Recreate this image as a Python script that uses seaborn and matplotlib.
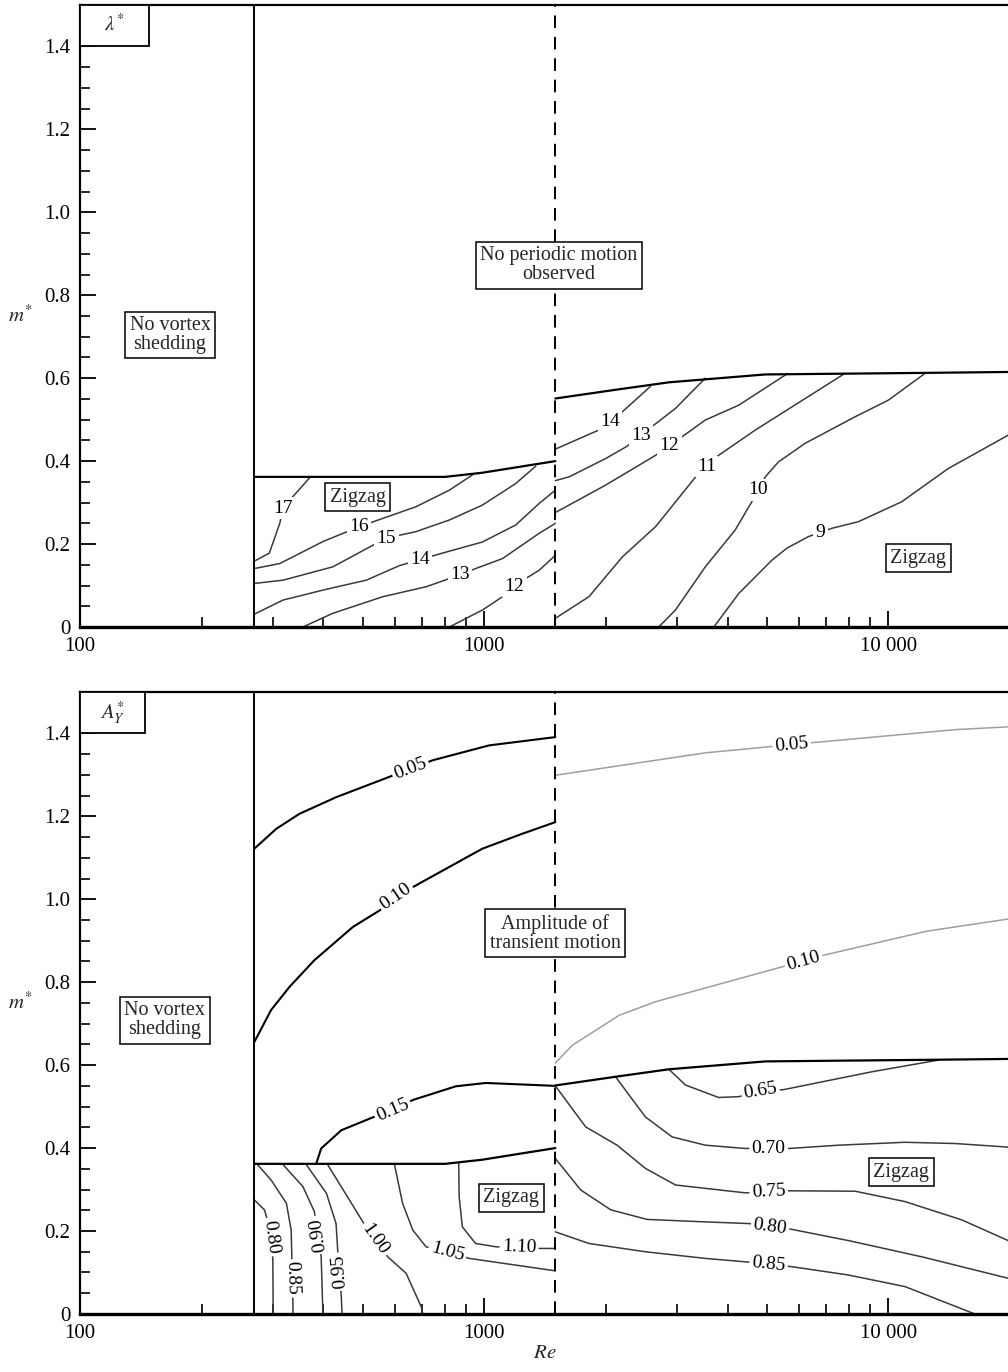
import numpy as np
import matplotlib
matplotlib.use("Agg")
import matplotlib.pyplot as plt
import seaborn as sns
from matplotlib.patches import Rectangle
from matplotlib.ticker import MultipleLocator, FuncFormatter, NullFormatter

# ---------------- data (Re, m*) ----------------
re_onset = 270      # no vortex shedding below this
re_dash = 1500      # dashed separation line

# regime boundaries (same in both panels)
low_bound_re = [270, 800, 990, 1200, 1500]
low_bound_m = [0.362, 0.362, 0.372, 0.385, 0.400]
up_bound_re = [1500, 2113, 2864, 4961, 13000, 20000]
up_bound_m = [0.551, 0.572, 0.590, 0.609, 0.613, 0.615]

# top panel: lambda* contours
lam17_re = [270, 294, 312, 318, 336, 370]
lam17_m = [0.159, 0.178, 0.250, 0.286, 0.314, 0.360]
lam16_re = [270, 312, 399, 491, 678, 820, 936]
lam16_m = [0.141, 0.153, 0.206, 0.242, 0.290, 0.330, 0.367]
lam15_re = [270, 318, 422, 571, 678, 820, 990, 1197, 1342]
lam15_m = [0.105, 0.113, 0.145, 0.214, 0.230, 0.258, 0.294, 0.346, 0.388]
lam14_re = [270, 318, 399, 511, 617, 692, 774, 990, 1197, 1368, 1500]
lam14_m = [0.031, 0.065, 0.089, 0.113, 0.148, 0.162, 0.176, 0.205, 0.246, 0.298, 0.330]
lam13_re = [356, 422, 561, 718, 867, 953, 1110, 1368, 1500]
lam13_m = [0.0, 0.033, 0.073, 0.097, 0.125, 0.141, 0.165, 0.226, 0.250]
lam12_re = [820, 990, 1110, 1186, 1268, 1368, 1500]
lam12_m = [0.0, 0.041, 0.073, 0.098, 0.117, 0.137, 0.173]
lam14r_re = [1500, 1923, 2197, 2578]
lam14r_m = [0.429, 0.475, 0.519, 0.580]
lam13r_re = [1500, 1622, 1996, 2258, 2630, 2973, 3524]
lam13r_m = [0.353, 0.362, 0.406, 0.436, 0.487, 0.527, 0.600]
lam12r_re = [1500, 1996, 2655, 3090, 3524, 4266, 5608]
lam12r_m = [0.276, 0.342, 0.414, 0.459, 0.499, 0.535, 0.610]
lam11_re = [1500, 1816, 2197, 2655, 3336, 3802, 4688, 7821]
lam11_m = [0.021, 0.073, 0.169, 0.242, 0.362, 0.414, 0.475, 0.612]
lam10_re = [2703, 2973, 3524, 4179, 4594, 4961, 5345, 6226, 8277, 10000, 12340]
lam10_m = [0.0, 0.041, 0.145, 0.234, 0.302, 0.362, 0.398, 0.443, 0.507, 0.547, 0.612]
lam9_re = [3700, 4266, 5150, 5608, 6342, 7249, 8434, 10790, 14060, 20000]
lam9_m = [0.0, 0.081, 0.161, 0.190, 0.218, 0.238, 0.254, 0.302, 0.382, 0.465]

# bottom panel: A_Y* contours
amp05_re = [270, 306, 349, 430, 582, 745, 1028, 1500]
amp05_m = [1.122, 1.170, 1.206, 1.246, 1.295, 1.335, 1.371, 1.391]
amp10_re = [270, 297, 330, 380, 473, 551, 605, 691, 820, 990, 1243, 1500]
amp10_m = [0.656, 0.733, 0.789, 0.853, 0.933, 0.973, 1.006, 1.038, 1.078, 1.122, 1.158, 1.186]
amp15_re = [384, 395, 443, 530, 594, 666, 851, 1009, 1500]
amp15_m = [0.362, 0.399, 0.443, 0.474, 0.492, 0.516, 0.549, 0.557, 0.550]
amp05r_re = [1500, 3524, 5768, 14630, 20000]
amp05r_m = [1.299, 1.353, 1.373, 1.409, 1.416]
amp10r_re = [1500, 1652, 1888, 2155, 2655, 5456, 6912, 12440, 20000]
amp10r_m = [0.605, 0.648, 0.684, 0.720, 0.753, 0.837, 0.865, 0.923, 0.953]
amp65_re = [2864, 3148, 3802, 4266, 4823, 5509, 9104, 13270]
amp65_m = [0.590, 0.552, 0.522, 0.524, 0.537, 0.541, 0.584, 0.612]
amp70_re = [2113, 2506, 2917, 3524, 4430, 5057, 5665, 7535, 10990, 14630, 20000]
amp70_m = [0.572, 0.475, 0.427, 0.407, 0.399, 0.400, 0.399, 0.407, 0.414, 0.411, 0.402]
amp75_re = [1500, 1783, 2132, 2506, 2973, 4430, 5665, 8277, 10990, 15180, 20000]
amp75_m = [0.550, 0.451, 0.407, 0.351, 0.311, 0.292, 0.297, 0.296, 0.271, 0.227, 0.175]
amp80r_re = [1500, 1733, 2057, 2530, 3524, 4514, 5768, 7962, 12080, 20000]
amp80r_m = [0.375, 0.299, 0.251, 0.228, 0.222, 0.218, 0.204, 0.177, 0.138, 0.085]
amp85r_re = [1500, 1816, 2506, 3524, 4514, 5768, 7962, 10990, 16370]
amp85r_m = [0.198, 0.170, 0.150, 0.134, 0.125, 0.114, 0.094, 0.066, 0.0]
amp80_re = [270, 286, 296, 300, 300.5]
amp80_m = [0.275, 0.251, 0.200, 0.130, 0.0]
amp85_re = [275, 297, 324, 333, 336, 336.5]
amp85_m = [0.360, 0.323, 0.267, 0.202, 0.042, 0.0]
amp90_re = [399, 395, 380, 356, 318]
amp90_m = [0.0, 0.138, 0.247, 0.307, 0.360]
amp95_re = [445, 443, 434, 430, 407, 363]
amp95_m = [0.0, 0.042, 0.154, 0.218, 0.291, 0.360]
amp100_re = [410, 501, 577, 641, 698, 705]
amp100_m = [0.360, 0.222, 0.138, 0.098, 0.018, 0.0]
amp105_re = [600, 628, 666, 718, 811, 918, 1500]
amp105_m = [0.360, 0.267, 0.202, 0.162, 0.149, 0.134, 0.104]
amp110_re = [865, 867, 883, 952, 1069, 1220, 1368, 1500]
amp110_m = [0.364, 0.283, 0.210, 0.170, 0.162, 0.160, 0.158, 0.158]

# (Re, m*, label, style, label anchor)
lam_lines = [
    (lam17_re, lam17_m, "17", "c", (318, 0.287)),
    (lam16_re, lam16_m, "16", "c", (491, 0.241)),
    (lam15_re, lam15_m, "15", "c", (573, 0.214)),
    (lam14_re, lam14_m, "14", "c", (692, 0.165)),
    (lam13_re, lam13_m, "13", "c", (867, 0.130)),
    (lam12_re, lam12_m, "12", "c", (1186, 0.100)),
    (lam14r_re, lam14r_m, "14", "c", (2055, 0.495)),
    (lam13r_re, lam13r_m, "13", "c", (2460, 0.459)),
    (lam12r_re, lam12r_m, "12", "c", (2864, 0.439)),
    (lam11_re, lam11_m, "11", "c", (3524, 0.390)),
    (lam10_re, lam10_m, "10", "c", (4775, 0.330)),
    (lam9_re, lam9_m, "9", "c", (6780, 0.232)),
]
amp_lines = [
    (amp05_re, amp05_m, "0.05", "b", (659, 1.311)),
    (amp10_re, amp10_m, "0.10", "b", (605, 1.006)),
    (amp15_re, amp15_m, "0.15", "b", (594, 0.492)),
    (amp05r_re, amp05r_m, "0.05", "g", (5768, 1.373)),
    (amp10r_re, amp10r_m, "0.10", "g", (6166, 0.853)),
    (amp65_re, amp65_m, "0.65", "c", (4823, 0.540)),
    (amp70_re, amp70_m, "0.70", "c", (5057, 0.402)),
    (amp75_re, amp75_m, "0.75", "c", (5057, 0.298)),
    (amp80r_re, amp80r_m, "0.80", "c", (5107, 0.215)),
    (amp85r_re, amp85r_m, "0.85", "c", (5057, 0.122)),
    (amp80_re, amp80_m, "0.80", "c", (300, 0.186)),
    (amp85_re, amp85_m, "0.85", "c", (336, 0.086)),
    (amp90_re, amp90_m, "0.90", "c", (384, 0.190)),
    (amp95_re, amp95_m, "0.95", "c", (439, 0.102)),
    (amp100_re, amp100_m, "1.00", "c", (541, 0.182)),
    (amp105_re, amp105_m, "1.05", "c", (811, 0.150)),
    (amp110_re, amp110_m, "1.10", "c", (1220, 0.162)),
]

styles = {"c": ("#3a3a3a", 1.1), "b": ("black", 1.5), "g": ("#9e9e9e", 1.1)}

# ---------------- style ----------------
sns.set_theme(style="ticks")
plt.rcParams["font.family"] = ["Liberation Serif", "DejaVu Serif"]
plt.rcParams["mathtext.fontset"] = "stix"

fig = plt.figure(figsize=(10.08, 13.72), dpi=100)
ax_top = fig.add_axes([0.0794, 0.5430, 0.9226, 0.4534])
ax_bot = fig.add_axes([0.0794, 0.0423, 0.9226, 0.4534])


def setup_axes(ax):
    ax.set_xscale("log")
    ax.set_xlim(100, 2e4)
    ax.set_ylim(0, 1.5)
    ax.set_xticks([100, 1000, 10000], ["100", "1000", "10 000"])
    ax.xaxis.set_minor_formatter(NullFormatter())
    ax.yaxis.set_major_locator(MultipleLocator(0.2))
    ax.yaxis.set_minor_locator(MultipleLocator(0.05))
    ax.yaxis.set_major_formatter(FuncFormatter(lambda v, p: "0" if abs(v) < 1e-9 else f"{v:.1f}"))
    ax.tick_params(which="major", direction="in", length=11.5, width=1.3,
                   labelsize=15, top=False, right=False, pad=7, colors="black")
    ax.tick_params(which="minor", direction="in", length=7, width=1.2,
                   top=False, right=False, colors="black")
    for side in ["left", "top"]:
        ax.spines[side].set_linewidth(1.6)
        ax.spines[side].set_color("black")
    ax.spines["bottom"].set_linewidth(2.4)
    ax.spines["bottom"].set_color("black")
    ax.spines["right"].set_visible(False)
    ax.set_ylabel("$m^{*}$", fontsize=15, rotation=0, ha="center", va="center")
    ax.yaxis.set_label_coords(-0.0645, 0.5)


def draw(ax, re, m, color, lw, ls="-", z=2):
    sns.lineplot(x=re, y=m, ax=ax, sort=False, estimator=None, color=color,
                 lw=lw, linestyle=ls, legend=False, zorder=z)


def put_label(ax, re, m, text, anchor, rotate=True):
    pts = ax.transData.transform(np.column_stack([re, m]))
    seg = np.diff(pts, axis=0)
    seglen = np.hypot(seg[:, 0], seg[:, 1])
    cum = np.concatenate([[0.0], np.cumsum(seglen)])
    a = ax.transData.transform([anchor])[0]
    best = (np.inf, 0.0)
    for i in range(len(seg)):
        t = np.clip(np.dot(a - pts[i], seg[i]) / max(seglen[i] ** 2, 1e-9), 0, 1)
        d = np.hypot(*(pts[i] + t * seg[i] - a))
        if d < best[0]:
            best = (d, cum[i] + t * seglen[i])

    def at_s(s):
        s = np.clip(s, 0, cum[-1])
        return np.array([np.interp(s, cum, pts[:, 0]), np.interp(s, cum, pts[:, 1])])

    p = at_s(best[1])
    d = at_s(best[1] + 14) - at_s(best[1] - 14)
    ang = np.degrees(np.arctan2(d[1], d[0])) if rotate else 0.0
    x, y = ax.transData.inverted().transform(p)
    ax.text(x, y, text, rotation=ang, rotation_mode="anchor", ha="center",
            va="center", fontsize=14, color="black", zorder=6,
            bbox=dict(boxstyle="square,pad=0.12", fc="white", ec="none"))


def boxed(ax, re, m, text):
    ax.text(re, m, text, ha="center", va="center", fontsize=14.5, linespacing=1.0,
            multialignment="center", zorder=7,
            bbox=dict(boxstyle="square,pad=0.22", fc="white", ec="black", lw=1.1))


def corner(ax, text, w):
    h = 0.066
    ax.add_patch(Rectangle((0, 1 - h), w, h, transform=ax.transAxes, fc="white",
                           ec="black", lw=1.3, zorder=8, clip_on=False))
    ax.text(w / 2, 1 - h / 2, text, transform=ax.transAxes, ha="center",
            va="center", fontsize=15, zorder=9)


for ax, lines, rot in [(ax_top, lam_lines, False), (ax_bot, amp_lines, True)]:
    setup_axes(ax)
    # regime boundaries
    draw(ax, [re_onset, re_onset], [0, 1.5], "black", 1.4, z=3)
    draw(ax, [re_dash, re_dash], [0, 1.5], "black", 1.4, ls=(0, (6.5, 4.5)), z=3)
    draw(ax, low_bound_re, low_bound_m, "black", 1.6, z=3)
    draw(ax, up_bound_re, up_bound_m, "black", 1.6, z=3)
    for re, m, lab, st, anc in lines:
        col, lw = styles[st]
        draw(ax, re, m, col, lw)
        put_label(ax, re, m, lab, anc, rotate=rot)

# annotations, top panel
boxed(ax_top, 167, 0.704, "No vortex\nshedding")
boxed(ax_top, 1531, 0.872, "No periodic motion\nobserved")
boxed(ax_top, 486, 0.313, "Zigzag")
boxed(ax_top, 11860, 0.166, "Zigzag")
corner(ax_top, r"$\lambda^{*}$", 0.074)
ax_top.set_xlabel("")

# annotations, bottom panel
boxed(ax_bot, 162, 0.708, "No vortex\nshedding")
boxed(ax_bot, 1500, 0.918, "Amplitude of\ntransient motion")
boxed(ax_bot, 1166, 0.280, "Zigzag")
boxed(ax_bot, 10770, 0.342, "Zigzag")
corner(ax_bot, r"$A_Y^{*}$", 0.070)
ax_bot.set_xlabel("$Re$", fontsize=15, labelpad=1)

fig.savefig("out.png", dpi=100)
